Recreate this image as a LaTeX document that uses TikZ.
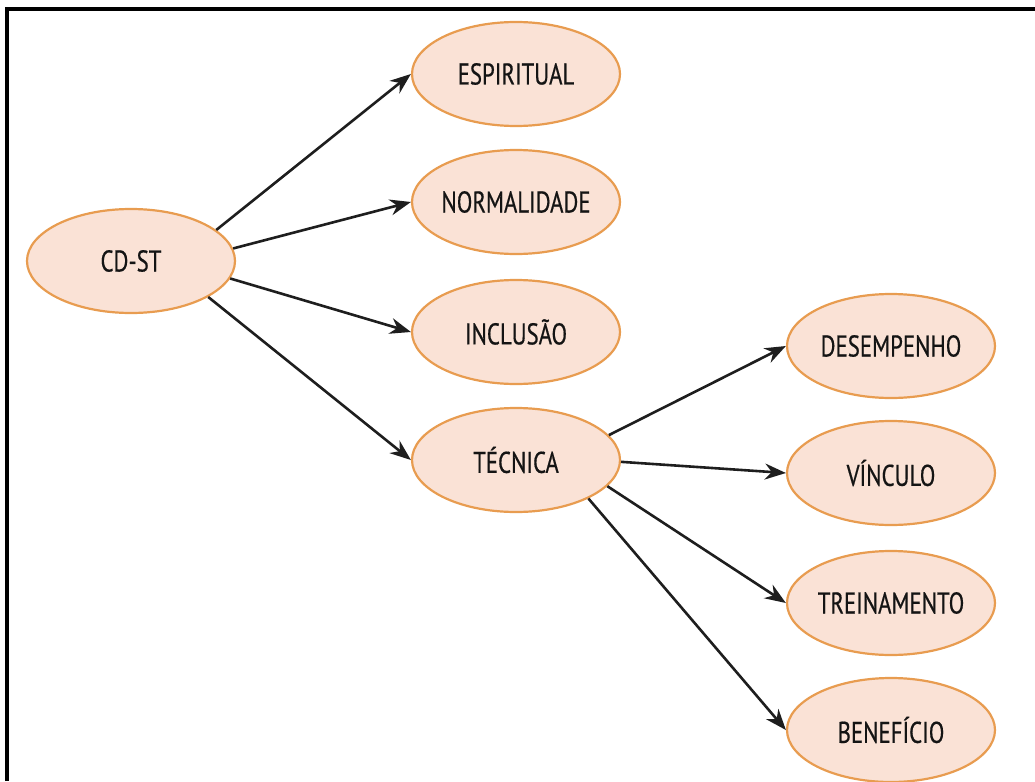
\documentclass[tikz,border=0pt]{standalone}
\usepackage{fontspec}
\setmainfont{PT Sans}[FakeStretch=0.76,FakeBold=0.5]
\usetikzlibrary{arrows.meta,positioning,shapes.geometric}
\definecolor{fundo}{RGB}{250,226,214}
\definecolor{contorno}{RGB}{232,156,80}
\definecolor{seta}{RGB}{30,30,30}

\begin{document}
\begin{tikzpicture}[
        x=1pt, y=-1pt,
        node distance=128pt,
        on grid,
        bolha/.style={ellipse, draw=contorno, fill=fundo, line width=2.2pt,
            minimum width=208pt, minimum height=104pt,
            inner xsep=-30pt, inner ysep=0pt,
            font=\fontsize{30}{30}\selectfont, text=black!92},
        ligacao/.style={color=seta, line width=2.6pt,
            -{Stealth[length=21pt,width=16pt]}}]
    \useasboundingbox (0,0) rectangle (1035,781);
    \draw[line width=4pt] (7,781) -- (7,9) -- (1035,9);

    \node[bolha] (cdst) at (131,261) {CD-ST};
    \node[bolha] (espiritual) at (516,74) {ESPIRITUAL};
    \node[bolha] (normalidade) [below=128pt of espiritual] {NORMALIDADE};
    \node[bolha] (inclusao) [below=130pt of normalidade] {INCLUSÃO};
    \node[bolha] (tecnica) [below=128pt of inclusao] {TÉCNICA};
    \node[bolha] (desempenho) at (891,346) {DESEMPENHO};
    \node[bolha] (vinculo) [below=127pt of desempenho] {VÍNCULO};
    \node[bolha] (treinamento) [below=130pt of vinculo] {TREINAMENTO};
    \node[bolha] (beneficio) [below=127pt of treinamento] {BENEFÍCIO};

    \path[ligacao]
    (cdst.20) edge (espiritual.west)
    (cdst.7) edge (normalidade.west)
    (cdst.-10) edge (inclusao.west)
    (cdst.-25) edge (tecnica.west)
    (tecnica.15) edge (desempenho.west)
    (tecnica.-1) edge (vinculo.west)
    (tecnica.-16) edge (treinamento.west)
    (tecnica.-28) edge (beneficio.west)
    ;
\end{tikzpicture}
\end{document}
